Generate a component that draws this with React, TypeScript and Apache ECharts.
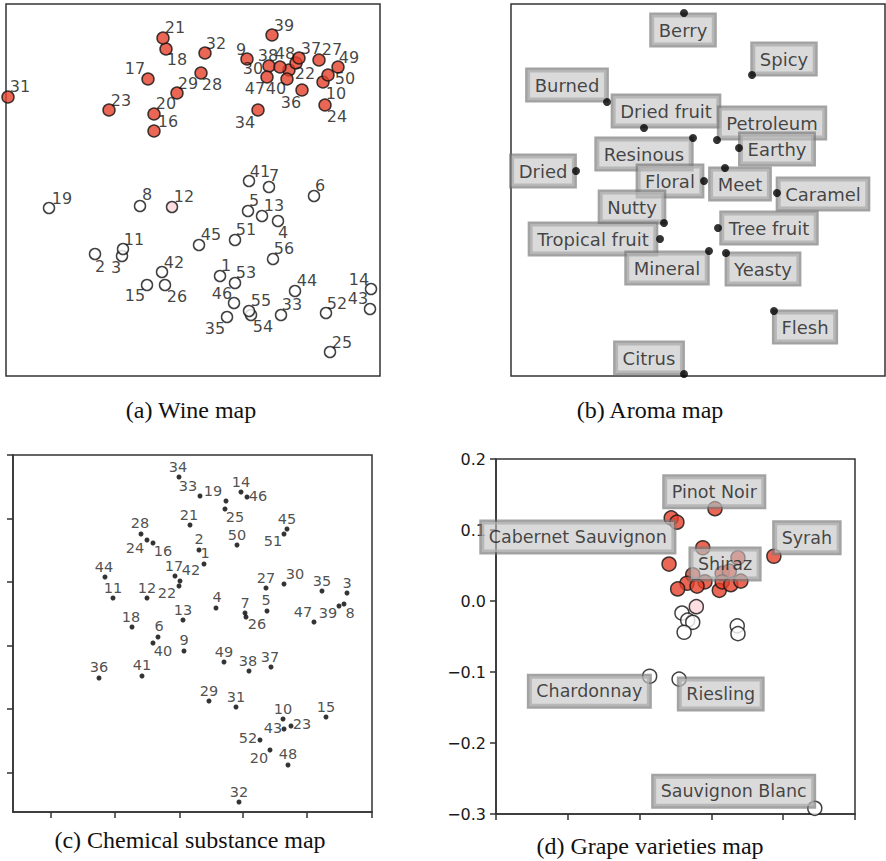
import React, { useEffect, useRef } from "react";
import * as echarts from "echarts";

// ---------- (a) Wine map: map coordinates of wines 1..56 ----------
const wineX = [220, 95, 122, 278, 248, 314, 269, 140, 247, 323, 123, 172, 262, 371, 147, 154, 148, 166, 49, 154, 163, 289, 109, 325, 330, 165, 319, 201, 177, 296, 8, 205, 281, 258, 227, 302, 299, 269, 272, 287, 249, 162, 370, 295, 199, 234, 267, 280, 338, 328, 235, 326, 235, 251, 249, 273];
const wineY = [276, 254, 256, 221, 211, 196, 187, 206, 59, 82, 249, 207, 216, 289, 285, 131, 79, 49, 208, 114, 38, 70, 110, 105, 352, 285, 60, 73, 93, 63, 97, 53, 315, 110, 317, 90, 58, 66, 35, 79, 181, 272, 309, 291, 245, 303, 77, 67, 67, 75, 240, 313, 283, 315, 311, 259];
// r = red wine, w = white wine, p = rosé
const wineKind = ["w", "w", "w", "w", "w", "w", "w", "w", "r", "r", "w", "p", "w", "w", "w", "r", "r", "r", "w", "r", "r", "r", "r", "r", "w", "w", "r", "r", "r", "r", "r", "r", "w", "r", "w", "r", "r", "r", "r", "r", "w", "w", "w", "w", "w", "w", "r", "r", "r", "r", "w", "w", "w", "w", "w", "w"];
const wineLabelX = [226, 100, 116, 283, 254, 320, 274, 147, 241, 336, 134, 184, 274, 359, 135, 168, 135, 177, 62, 166, 175, 305, 121, 337, 342, 177, 332, 212, 188, 253, 20, 216, 292, 245, 215, 291, 311, 268, 284, 276, 260, 174, 358, 307, 211, 222, 255, 285, 349, 345, 246, 337, 246, 263, 261, 284];
const wineLabelY = [265, 266, 267, 232, 200, 185, 175, 194, 49, 93, 239, 196, 205, 279, 295, 121, 68, 59, 198, 103, 27, 73, 100, 116, 342, 296, 49, 84, 83, 68, 86, 43, 304, 122, 328, 102, 48, 55, 25, 88, 171, 262, 298, 280, 234, 293, 88, 53, 57, 78, 229, 303, 272, 326, 300, 248];

// ---------- (b) Aroma map ----------
const aromaNames = ["Berry", "Spicy", "Burned", "Dried fruit", "Petroleum", "Resinous", "Earthy", "Dried", "Floral", "Meet", "Caramel", "Nutty", "Tropical fruit", "Tree fruit", "Mineral", "Yeasty", "Flesh", "Citrus"];
const aromaX = [684, 752, 607, 644, 717, 693, 739, 576, 704, 725, 777, 664, 660, 718, 709, 726, 774, 684];
const aromaY = [13, 75, 102, 128, 140, 138, 148, 171, 181, 168, 193, 223, 239, 228, 251, 253, 311, 374];
const aromaLabelX = [683, 784, 567, 666, 772, 644, 777, 543, 670, 740, 823, 632, 593, 769, 667, 763, 805, 649];
const aromaLabelY = [30, 59, 85, 111, 123, 154, 149, 171, 181, 184, 194, 207, 239, 228, 268, 269, 327, 358];

// ---------- (c) Chemical substance map: substances 1..52 ----------
const chemX = [204, 199, 347, 216, 267, 158, 245, 344, 184, 283, 113, 147, 183, 241, 326, 153, 175, 132, 226, 270, 190, 179, 291, 147, 225, 246, 266, 141, 209, 284, 236, 239, 200, 179, 322, 99, 271, 249, 339, 153, 142, 180, 284, 105, 287, 247, 314, 288, 224, 237, 284, 260];
const chemY = [564, 550, 593, 608, 611, 637, 613, 604, 651, 719, 598, 598, 620, 492, 717, 543, 576, 627, 501, 750, 525, 586, 726, 540, 509, 617, 588, 534, 701, 584, 707, 802, 496, 477, 591, 678, 667, 671, 606, 643, 676, 581, 729, 577, 529, 497, 622, 765, 662, 545, 534, 740];
const chemLabelX = [205, 199, 347, 217, 266, 159, 245, 350, 184, 283, 113, 147, 183, 241, 326, 163, 174, 131, 213, 259, 189, 167, 302, 135, 235, 257, 266, 140, 209, 295, 236, 239, 188, 178, 322, 99, 270, 248, 328, 163, 142, 191, 273, 104, 287, 258, 303, 288, 224, 237, 273, 248];
const chemLabelY = [553, 539, 583, 597, 600, 626, 603, 613, 640, 709, 588, 588, 610, 482, 707, 551, 566, 617, 491, 758, 515, 593, 724, 548, 517, 624, 578, 523, 691, 574, 697, 792, 486, 467, 581, 667, 657, 661, 613, 651, 665, 570, 728, 567, 519, 496, 612, 754, 652, 535, 541, 738];
const chemTicksX = [51, 115, 180, 243, 307, 372];
const chemTicksY = [455, 519, 582, 646, 709, 773];

// ---------- (d) Grape varieties map ----------
const grapeX = [0.005, -0.056, -0.048, -0.012, -0.059, 0.087, 0.037, -0.026, 0.015, 0.025, -0.034, -0.009, -0.020, -0.047, 0.011, 0.015, 0.027, 0.041, -0.021, -0.041, -0.033, -0.026, -0.038, 0.036, 0.037, -0.086, -0.045, 0.144];
const grapeY = [0.130, 0.117, 0.111, 0.075, 0.052, 0.063, 0.061, 0.037, 0.039, 0.042, 0.025, 0.027, 0.021, 0.017, 0.015, 0.027, 0.023, 0.028, -0.008, -0.017, -0.027, -0.030, -0.044, -0.035, -0.046, -0.106, -0.110, -0.292];
const grapeKind = ["r", "r", "r", "r", "r", "r", "r", "r", "r", "r", "r", "r", "r", "r", "r", "r", "r", "r", "p", "w", "w", "w", "w", "w", "w", "w", "w", "w"];
const grapeNames = ["Pinot Noir", "Cabernet Sauvignon", "Syrah", "Shiraz", "Chardonnay", "Riesling", "Sauvignon Blanc"];
const grapeLabelX = [0.004, -0.186, 0.133, 0.019, -0.170, 0.013, 0.031];
const grapeLabelY = [0.154, 0.090, 0.089, 0.052, -0.127, -0.131, -0.268];
const grapeTicksY = [-0.3, -0.2, -0.1, 0.0, 0.1, 0.2];

const captions = ["(a) Wine map", "(b) Aroma map", "(c) Chemical substance map", "(d) Grape varieties map"];

const RED = "#e5402b";
const PINK = "#ffd6dc";
const SANS = "DejaVu Sans";

export default function App() {
  const ref = useRef<HTMLDivElement>(null);

  useEffect(() => {
    if (!ref.current) return;
    const chart = echarts.init(ref.current, null, { renderer: "svg" });

    const kindColor = (k: string) => (k === "r" ? RED : k === "p" ? PINK : "#ffffff");

    const pointSeries = (
      xs: number[], ys: number[], kinds: string[], idx: number, size: number, kind: string, z: number
    ) => ({
      type: "scatter",
      xAxisIndex: idx,
      yAxisIndex: idx,
      symbolSize: size,
      z,
      silent: true,
      itemStyle: { color: kindColor(kind), borderColor: "#111", borderWidth: 1.5 },
      data: xs.map((x, i) => [x, ys[i]]).filter((_, i) => kinds[i] === kind),
    });

    const textSeries = (
      xs: number[], ys: number[], names: string[], idx: number, fontSize: number, color: string, z: number
    ) => ({
      type: "scatter",
      xAxisIndex: idx,
      yAxisIndex: idx,
      symbolSize: 1,
      z,
      silent: true,
      itemStyle: { color: "rgba(0,0,0,0)" },
      label: {
        show: true,
        position: "inside",
        formatter: "{b}",
        fontFamily: SANS,
        fontSize,
        color,
      },
      data: xs.map((x, i) => ({ value: [x, ys[i]], name: names[i] })),
    });

    const boxSeries = (
      xs: number[], ys: number[], names: string[], idx: number, fontSize: number, z: number
    ) => ({
      type: "scatter",
      xAxisIndex: idx,
      yAxisIndex: idx,
      symbolSize: 1,
      z,
      silent: true,
      itemStyle: { color: "rgba(0,0,0,0)" },
      label: {
        show: true,
        position: "inside",
        formatter: "{b}",
        fontFamily: SANS,
        fontSize,
        lineHeight: 20,
        color: "#1a1a1a",
        backgroundColor: "rgba(195,195,195,0.78)",
        borderColor: "rgba(120,120,120,0.85)",
        borderWidth: 2.5,
        padding: [5, 7],
      },
      data: xs.map((x, i) => ({ value: [x, ys[i]], name: names[i] })),
    });

    const wineNames = wineX.map((_, i) => String(i + 1));
    const chemNames = chemX.map((_, i) => String(i + 1));

    const hiddenAxis = (idx: number, min: number, max: number, inverse = false) => ({
      type: "value", gridIndex: idx, min, max, inverse, show: false,
    });

    const frame = { show: true, borderColor: "#333", borderWidth: 1.5, backgroundColor: "transparent" };
    const axisLine = { show: true, onZero: false, lineStyle: { color: "#333", width: 1.5 } };
    const tick = (vals?: number[]) => ({
      show: true, inside: false, length: 6, lineStyle: { color: "#333", width: 1.5 },
      ...(vals ? { customValues: vals } : {}),
    });

    const option: any = {
      animation: false,
      grid: [
        { left: 6, top: 4, width: 374, height: 372, ...frame },
        { left: 511, top: 4, width: 374, height: 372, ...frame },
        { left: 13, top: 455, width: 359, height: 357, ...frame },
        { left: 496, top: 459, width: 359, height: 355, ...frame },
      ],
      xAxis: [
        hiddenAxis(0, 6, 380),
        hiddenAxis(1, 511, 885),
        {
          type: "value", gridIndex: 2, min: 13, max: 372, position: "bottom",
          axisLine, axisTick: tick(chemTicksX), axisLabel: { show: false }, splitLine: { show: false },
        },
        {
          type: "value", gridIndex: 3, min: -0.3, max: 0.2, interval: 0.1, position: "bottom",
          axisLine, axisTick: tick(), axisLabel: { show: false }, splitLine: { show: false },
        },
      ],
      yAxis: [
        hiddenAxis(0, 4, 376, true),
        hiddenAxis(1, 4, 376, true),
        {
          type: "value", gridIndex: 2, min: 455, max: 812, inverse: true, position: "left",
          axisLine, axisTick: tick(chemTicksY), axisLabel: { show: false }, splitLine: { show: false },
        },
        {
          type: "value", gridIndex: 3, min: -0.3, max: 0.2, position: "left",
          axisLine, axisTick: tick(grapeTicksY), splitLine: { show: false },
          axisLabel: {
            show: true, customValues: grapeTicksY, fontFamily: SANS, fontSize: 16, color: "#1a1a1a", margin: 10,
            formatter: (v: number) => v.toFixed(1).replace("-", "\u2212"),
          },
        },
      ],
      series: [
        // (a)
        pointSeries(wineX, wineY, wineKind, 0, 12, "r", 3),
        pointSeries(wineX, wineY, wineKind, 0, 11, "w", 3),
        pointSeries(wineX, wineY, wineKind, 0, 11, "p", 3),
        textSeries(wineLabelX, wineLabelY, wineNames, 0, 16, "#111", 4),
        // (b)
        boxSeries(aromaLabelX, aromaLabelY, aromaNames, 1, 18, 3),
        {
          type: "scatter", xAxisIndex: 1, yAxisIndex: 1, symbolSize: 8, z: 4, silent: true,
          itemStyle: { color: "#000" },
          data: aromaX.map((x, i) => [x, aromaY[i]]),
        },
        // (c)
        {
          type: "scatter", xAxisIndex: 2, yAxisIndex: 2, symbolSize: 5, z: 3, silent: true,
          itemStyle: { color: "#000" },
          data: chemX.map((x, i) => [x, chemY[i]]),
        },
        textSeries(chemLabelX, chemLabelY, chemNames, 2, 14.5, "#222", 4),
        // (d)
        pointSeries(grapeX, grapeY, grapeKind, 3, 14, "w", 3),
        pointSeries(grapeX, grapeY, grapeKind, 3, 14, "p", 3),
        pointSeries(grapeX, grapeY, grapeKind, 3, 14, "r", 3),
        boxSeries(grapeLabelX, grapeLabelY, grapeNames, 3, 17.5, 5),
      ],
      graphic: [
        { x: 191, y: 410, text: captions[0] },
        { x: 650, y: 410, text: captions[1] },
        { x: 190, y: 840, text: captions[2] },
        { x: 650, y: 846, text: captions[3] },
      ].map((c) => ({
        type: "text",
        x: c.x,
        y: c.y,
        style: {
          text: c.text,
          textAlign: "center",
          textVerticalAlign: "middle",
          font: '24px "Liberation Serif"',
          fill: "#111",
        },
      })),
    };

    chart.setOption(option);
    return () => chart.dispose();
  }, []);

  return (
    <div
      ref={ref}
      style={{ position: "absolute", left: 0, top: 0, width: 886, height: 861, background: "#fff" }}
    />
  );
}
